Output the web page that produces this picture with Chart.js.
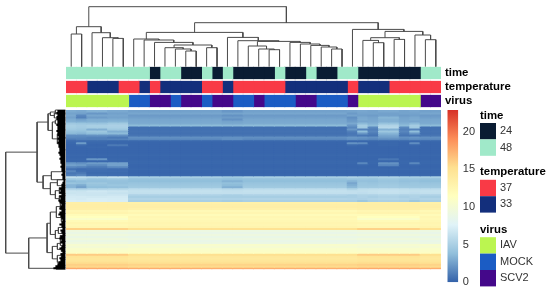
<!DOCTYPE html>
<html>
<head>
<meta charset="utf-8">
<script src="https://cdn.jsdelivr.net/npm/chart.js@4"></script>
<style>
  html, body { margin: 0; padding: 0; background: #fff; overflow: hidden; }
  canvas { position: absolute; filter: blur(0.45px); }
</style>
</head>
<body>
<script>
// annotation levels, one entry per run of columns
const timeRuns = [[48,8],[24,1],[48,2],[24,2],[48,1],[24,1],[48,1],[24,4],[48,1],[24,2],[48,1],[24,2],[48,2],[24,6],[48,2]];
const temperatureRuns = [[37,2],[33,3],[37,2],[33,1],[37,1],[33,4],[37,2],[33,1],[37,5],[33,6],[37,1],[33,3],[37,5]];
const virusRuns = [["IAV",6],["MOCK",2],["SCV2",2],["MOCK",1],["SCV2",2],["MOCK",1],["SCV2",2],["MOCK",2],["SCV2",1],["MOCK",3],["SCV2",2],["MOCK",3],["SCV2",1],["IAV",6],["SCV2",2]];
const annotationNames = ["time", "temperature", "virus"];
const timeLevels = [24, 48];
const temperatureLevels = [37, 33];
const virusLevels = ["IAV", "MOCK", "SCV2"];
const colorTicks = [0, 5, 10, 15, 20];
const colorMax = 22.9;

// dendrograms: [height, child, child]; 0 = next column leaf, row leaves are row numbers
const L = 0;
const colTree = [60,
  [40, [32.7,L,L], [34,L,[29,L,[28.3,L,L]]]],
  [44,
    [34.3,
      [27.7,L,[26.7,L,[24.3,L,[21.7,[19,L,[17.7,L,[15.7,L,L]]],[19,L,L]]]]],
      [29.3,L,[26,L,[25.3,[20.7,L,[17.7,L,[17,L,L]]],[24.3,L,[22.7,L,[21.3,L,[19.7,L,[17.7,L,L]]]]]]]]
    ],
    [37.3,L,[35.3,[29,[26.3,L,[24,L,L]],[27.3,L,L]],[31.7,L,[27,L,L]]]]
  ]
];
const rowTree = [59.7,
  [28.3,
    [17.3, [15,[10,0,2],[11,1.5,4]], [13,[10,5,7],[8,[5,10,14],[5,14,20]]]],
    [22.3, [14,31,35], [15,[8,35,38],[10,[6,39,42],[6,43,46]]]]
  ],
  [36.7,
    [18.3,
      [15,[9,[5,47,50],[4,52,56]],[10,[7,59,62],[5,63,66]]],
      [13,[8,[5,66,68],[4,69,71]],[8,[4,72,74],[3,75,78]]]
    ],
    [9,79,80]
  ]
];
const rowLeafDepth = [8,9,8,9,9,8,8,9,8,8, 9,8,8,7,8,7,8,7,7,6, 6,7,6,5,6,5,5,4,5,4, 4,3,4,3,3,2,3,4,4,6,
  5,6,4,6,5,7,6,4,5,6, 4,6,7,5,4,3,4,6,4,3, 5,4,3,5,6,4,5,3,4,6, 4,3,5,4,6,5,7,8,10,12];

// heat values, upper rows differ between groups of columns
const topMock = [2.6,2.8,2.3,2.5,2.8,2.9,3.0,3.7, 0.6,0.6,0.7,0.6,0.8,1.9,1.6, 0.3,0.2,0.2,0.2,0.2,0.2,0.2,0.3,0.2,0.2,0.3,0.3,0.2,0.2,0.3,0.2,0.2,0.3, 5.0,4.0,3.8,4.2,4.4,4.6,6.0,6.3,6.2,5.2,4.9,5.3,5.0];
const topDark = [2.2,2.7,2.0,2.4,2.0,2.7,2.9,3.6, 0.6,0.6,0.7,0.6,0.8,2.0,1.9, 0.3,0.2,0.2,0.2,0.2,0.2,0.2,0.3,0.2,0.2,0.3,0.3,0.2,0.2,0.3,0.2,0.2,0.3, 4.6,3.8,3.3,3.9,3.7,3.2,5.8,6.2,6.2,5.0,4.9,5.2,4.8];
const topA0 = [3.0,2.7,2.9,2.6,3.0,3.2,4.5,5.0,4.9,4.6,4.0,3.6,1.8,1.6,1.0, 0.4,0.3,0.2,0.2,0.2,0.2,0.2,0.3,0.2,0.3,0.3,2.2,2.6,1.5,0.7,1.5,0.9,1.2, 6.2,4.6,3.6,4.2,3.4,3.4,5.5,6.6,6.5,6.8,7.0,7.1,7.3];
const topA1 = [2.9,2.6,1.6,1.3,2.6,3.1,4.3,4.8,4.7,4.4,3.9,3.4,1.8,1.5,1.2, 0.5,2.4,0.4,0.2,0.2,0.2,0.2,0.3,0.2,0.3,0.3,2.0,2.4,1.3,0.5,0.6,1.0,1.6, 6.0,4.8,3.8,4.0,3.0,2.6,5.4,6.5,6.6,6.7,7.0,7.0,7.2];
const topB = [3.2,2.2,2.8,2.4,3.1,3.2,4.2,5.0,4.9,3.2,4.4,3.8,2.0,1.3,1.2, 0.4,0.3,0.2,0.3,0.2,0.2,0.2,0.3,0.2,2.2,0.3,2.4,1.7,1.0,0.6,0.5,0.4,0.6, 5.8,4.2,3.9,4.4,4.1,3.8,5.6,6.8,6.6,6.6,6.9,7.2,7.3];
const topC = [2.9,2.6,2.8,2.7,3.1,3.4,4.6,5.1,5.0,4.5,3.2,3.7,1.9,1.0,1.4, 0.3,0.3,1.0,0.2,0.2,0.2,0.2,0.3,0.2,0.3,0.3,2.6,2.6,1.6,0.5,0.5,0.4,0.5, 6.3,4.4,4.0,4.0,4.3,4.0,5.7,6.6,6.4,6.7,7.0,7.1,7.2];
const topG = [2.7,2.3,2.7,1.9,2.2,2.4,2.9,2.2, 1.6,2.2,1.2,0.9,1.0,2.2,1.9, 0.3,2.0,0.4,0.2,0.2,0.2,0.2,0.3,0.2,0.2,0.3,0.3,0.2,0.2,0.3,0.2,0.2,0.3, 5.2,4.1,3.4,2.8,3.2,3.6,5.4,6.2,6.2,5.0,5.0,5.2,5.0];
const topH = [2.8,2.7,2.5,2.9,3.0,2.8,3.6,4.8, 4.6,1.4,3.8,2.2,0.9,2.1,1.7, 0.3,1.8,0.3,0.2,0.2,0.2,0.2,0.3,0.2,0.2,0.3,1.6,0.3,0.2,0.3,0.2,0.2,0.3, 5.0,4.2,4.0,4.3,4.4,4.6,6.0,6.2,6.0,5.3,5.2,5.1,4.4];
const topI = [2.7,2.7,2.4,2.7,2.8,2.9,3.2,3.7, 1.6,1.2,1.5,1.1,0.8,1.9,1.5, 0.3,0.2,0.2,0.2,0.2,0.2,0.2,0.3,0.2,0.2,0.3,0.3,0.2,0.2,0.3,0.2,0.2,0.3, 5.0,4.1,3.9,4.2,4.4,4.6,6.1,6.3,6.2,5.2,5.0,5.3,5.0];
const topK = [2.9,2.6,2.6,3.4,3.2,3.2,4.1,5.3, 5.6,3.2,4.4,3.4,2.8,2.4,1.7, 0.3,0.3,0.3,0.2,0.2,0.2,0.2,0.3,0.2,0.9,0.3,2.0,1.5,0.2,0.3,0.2,0.2,0.3, 5.2,4.4,4.2,4.4,4.6,4.7,6.2,6.4,6.3,5.4,5.2,5.4,5.1];
const lowOther = [13.2,13.4,13.5,13.2,12.2,12.6,11.9,12.4,12.2,12.4,12.7,12.5,12.8,15,9.1,8.7,9.3,8.8,9.2,8.7,9,10.6,10.2,10.7,10.9,11.2,15.2,14.4,14.2,14.5,15,15.8,15.5,17.6];
const lowIav = [13.4,13.6,13.6,13.4,12.5,12.8,12,11.5,10.8,12.1,12.6,12.3,12.5,15.9,9.3,8.9,9.5,8.9,9.5,8.9,9.3,10.3,10,10.6,10.8,11.1,16.2,14.8,14.5,14.7,15.3,16,15.7,17.8];
// which upper block each of the 36 columns uses
const columnTop = [topA0,topA1,topB,topB,topC,topC,
  topMock,topMock,topMock,topMock,topMock,topMock,topMock,topMock,topMock,topDark,topDark,
  topMock,topMock,topMock,topMock,topMock,topMock,topMock,topMock,topMock,topMock,
  topG,topH,topI,topK,topK,topI,topH,topMock,topMock];

const levelColors = { 24:"#0a1c33", 48:"#a0e9c9", 37:"#f93a46", 33:"#132f7c", IAV:"#bbf550", MOCK:"#1b5cc4", SCV2:"#44088a" };
const rampColors = ["#3361a9","#91bfdb","#e0f3f8","#ffffbf","#fee090","#fc8d59","#d73027"];
const lineGrey = "#4a4a4a";
const fontName = "'Liberation Sans', Arial, sans-serif";

function addCanvas(left, top, w, h) {
  const c = document.createElement("canvas");
  c.width = w;
  c.height = h;
  c.style.left = left + "px";
  c.style.top = top + "px";
  c.style.width = w + "px";
  c.style.height = h + "px";
  document.body.appendChild(c);
  return c;
}

function expandRuns(runs) {
  let out = [];
  runs.forEach((r) => { for (let i = 0; i < r[1]; i++) out.push(r[0]); });
  return out;
}

function hexRgb(hex) {
  return [1, 3, 5].map((i) => parseInt(hex.substr(i, 2), 16));
}

function heatColor(v) {
  const t = Math.min(v / colorMax, 1) * (rampColors.length - 1);
  const i = Math.min(Math.floor(t), rampColors.length - 2);
  const a = hexRgb(rampColors[i]), b = hexRgb(rampColors[i + 1]);
  const mix = a.map((c, k) => Math.round(c + (b[k] - c) * (t - i)));
  return `rgb(${mix[0]},${mix[1]},${mix[2]})`;
}

// turn a nested tree into line segments, gaps split with NaN
function treeSegments(tree, flip) {
  let next = 0;
  const pts = [];
  const add = (pos, h) => pts.push(flip ? { x: h, y: pos } : { x: pos, y: h });
  function walk(node) {
    if (!Array.isArray(node)) {
      if (flip) return { pos: node, h: 0 };
      next++;
      return { pos: next - 0.5, h: 0 };
    }
    const a = walk(node[1]), b = walk(node[2]);
    add(a.pos, a.h); add(a.pos, node[0]); add(b.pos, node[0]); add(b.pos, b.h);
    pts.push({ x: NaN, y: NaN });
    return { pos: (a.pos + b.pos) / 2, h: node[0] };
  }
  walk(tree);
  return pts;
}

// vertical axes reserve room for half a label above and below, not wanted here
function fixAxis(width) {
  return (axis) => {
    axis.width = width;
    axis.paddingTop = 0;
    axis.paddingBottom = 0;
  };
}

const baseOptions = { responsive: false, animation: false, events: [], plugins: { legend: { display: false }, tooltip: { enabled: false } } };
const columnLabels = columnTop.map((c, i) => "c" + (i + 1));

// column dendrogram
new Chart(addCanvas(66, 0, 375, 68), {
  type: "scatter",
  data: { datasets: [{ data: treeSegments(colTree, false), showLine: true, spanGaps: false, borderColor: lineGrey, borderWidth: 1, pointRadius: 0, clip: false }] },
  options: { ...baseOptions, layout: { padding: { bottom: 1.3 } },
    scales: { x: { type: "linear", min: 0, max: 36, display: false }, y: { type: "linear", min: 0, max: 66.7, display: false } } }
});

// annotation strips
const stripCols = [expandRuns(timeRuns), expandRuns(temperatureRuns), expandRuns(virusRuns)];
new Chart(addCanvas(66, 66, 484, 42), {
  type: "bar",
  data: {
    labels: annotationNames,
    datasets: columnLabels.map((c, i) => ({
      label: c,
      data: [1, 1, 1],
      backgroundColor: stripCols.map((s) => levelColors[s[i]]),
      categoryPercentage: 1,
      barPercentage: 0.79,
      inflateAmount: 0.6
    }))
  },
  options: { ...baseOptions, indexAxis: "y",
    scales: {
      x: { stacked: true, min: 0, max: 36, display: false },
      y: { stacked: true, position: "right", grid: { display: false, drawTicks: false }, border: { display: false },
        afterFit: fixAxis(109),
        ticks: { autoSkip: false, padding: 4, color: "#000", font: { family: fontName, weight: "bold", size: 11.4 } } }
    }
  }
});

// row dendrogram with the dense leaves
const leafPoints = [];
rowLeafDepth.forEach((d, r) => {
  leafPoints.push({ x: d, y: r + 0.5 }, { x: 0, y: r + 0.5 }, { x: NaN, y: NaN });
});
new Chart(addCanvas(0, 108, 66, 164), {
  type: "scatter",
  data: { datasets: [
    { data: leafPoints, showLine: true, spanGaps: false, borderColor: "#000", borderWidth: 2, pointRadius: 0, clip: false },
    { data: treeSegments(rowTree, true), showLine: true, spanGaps: false, borderColor: lineGrey, borderWidth: 1, pointRadius: 0, clip: false }
  ] },
  options: { ...baseOptions, layout: { padding: { top: 2, bottom: 2.7, right: 0.6 } },
    scales: { x: { type: "linear", min: 0, max: 65.4, reverse: true, display: false }, y: { type: "linear", min: 0, max: 80, reverse: true, display: false } } }
});

// heatmap, one stacked dataset per row
const rowCount = topMock.length + lowOther.length;
const rowDatasets = [];
for (let r = 0; r < rowCount; r++) {
  const values = columnTop.map((top, c) => {
    if (r < top.length) return top[r];
    const low = (c < 6 || c >= 28 && c < 34) ? lowIav : lowOther;
    return low[r - top.length];
  });
  rowDatasets.push({
    label: "row" + r,
    data: values.map(() => 1),
    heat: values,
    backgroundColor: values.map(heatColor),
    categoryPercentage: 1,
    barPercentage: 1,
    inflateAmount: 0.5
  });
}
new Chart(addCanvas(66, 110, 375, 160), {
  type: "bar",
  data: { labels: columnLabels, datasets: rowDatasets },
  options: { ...baseOptions, layout: { padding: { bottom: 0.7 } },
    scales: { x: { stacked: true, display: false }, y: { stacked: true, reverse: true, min: 0, max: rowCount, display: false } } }
});

// gradient for the colour bar needs the laid out scale
const barGradient = {
  id: "barGradient",
  beforeDatasetsDraw(chart) {
    const y = chart.scales.y;
    const grad = chart.ctx.createLinearGradient(0, y.getPixelForValue(0), 0, y.getPixelForValue(colorMax));
    rampColors.forEach((c, i) => grad.addColorStop(i / (rampColors.length - 1), c));
    chart.getDatasetMeta(0).data[0].options.backgroundColor = grad;
  }
};
// legend groups beside the colour bar
const groupLegend = {
  id: "groupLegend",
  afterDraw(chart) {
    const g = chart.ctx;
    const groups = [["time", timeLevels, 15.5], ["temperature", temperatureLevels, 72.3], ["virus", virusLevels, 129.7]];
    g.save();
    g.textBaseline = "middle";
    groups.forEach((group) => {
      g.font = `bold 11.4px ${fontName}`;
      g.fillStyle = "#000";
      g.textAlign = "left";
      g.fillText(group[0], 40, group[2]);
      group[1].forEach((level, i) => {
        const top = group[2] + 7.5 + i * 16.4;
        g.fillStyle = levelColors[level];
        g.fillRect(40, top, 16, 16.4);
        g.font = `11px ${fontName}`;
        g.fillStyle = "#333";
        g.fillText(String(level), 60, top + 8.2);
      });
    });
    g.restore();
  }
};
new Chart(addCanvas(440, 100, 110, 195), {
  type: "bar",
  data: { labels: ["scale"], datasets: [{ data: [colorMax], categoryPercentage: 1, barPercentage: 1, backgroundColor: rampColors[0], inflateAmount: 0 }] },
  options: { ...baseOptions, layout: { padding: { left: 7.3, right: 61.7, top: 10, bottom: 12.7 } },
    scales: {
      x: { display: false },
      y: { position: "right", min: 0, max: colorMax, grid: { display: false, drawTicks: false }, border: { display: false },
        afterFit: fixAxis(30),
        afterBuildTicks: (axis) => { axis.ticks = colorTicks.map((v) => ({ value: v })); },
        ticks: { padding: 4.5, color: "#333", font: { family: fontName, size: 11 } } }
    }
  },
  plugins: [barGradient, groupLegend]
});
</script>
</body>
</html>
